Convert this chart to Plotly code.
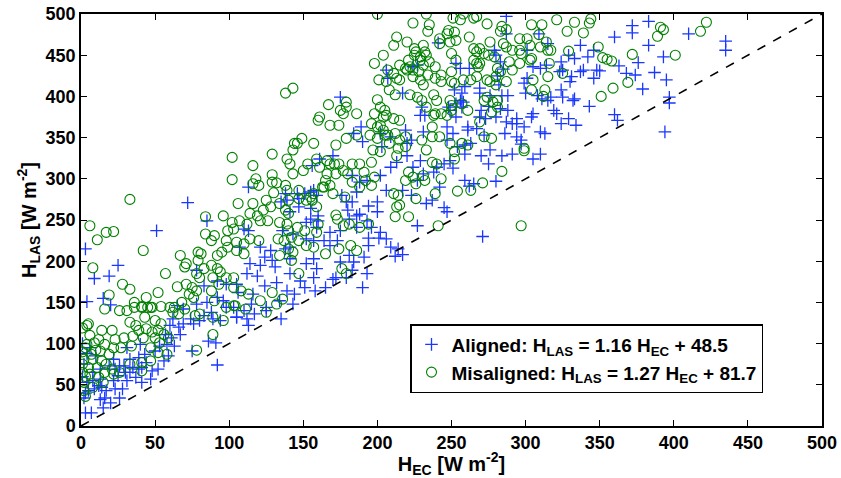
import plotly.graph_objects as go

# ---------------- data ----------------
# Aligned scintillometer: (H_EC, H_LAS) pairs, W m-2
aligned_points = [
    (3,16),(7,16),(3,215),(9,179),(4,151),(15,155),(19,182),(25,195),(20,147),(72,271),(51,237),(85,249),(113,290),
    (15,22),(20,28),(13,32),(16,34),(2,34),(3,40),(5,43),(9,45),(12,49),(14,47),(17,43),(8,55),(13,57),(4,53),
    (23,45),(26,34),(28,45),(22,55),(31,55),(25,61),(33,65),(37,59),(41,53),(35,71),(29,73),(33,81),(39,83),
    (41,71),(47,57),(48,67),(52,69),(44,77),(56,79),(43,87),(50,91),(53,97),(59,85),(58,99),(61,107),(57,111),
    (63,97),(67,111),(66,120),(60,122),(62,130),(69,124),(74,130),(76,124),(75,91),(80,128),(83,134),(86,103),
    (91,101),(92,74),(94,128),(88,138),(89,130),(98,144),(103,144),(105,132),(40,99),(31,95),(22,81),(19,73),
    (13,69),(8,65),(26,73),(39,69),(30,65),(23,69),
    (1,60),(2,75),(4,88),(6,95),(10,85),(1,100),
    (138,282),(147,276),(110,239),(113,237),(141,260),(121,217),(128,213),(107,217),(124,205),(129,201),
    (114,197),(121,195),(131,193),(112,185),(119,182),(92,176),(98,172),(83,170),(78,189),(105,172),(106,162),
    (116,160),(124,170),(132,174),(92,156),(96,152),(78,148),(85,150),(65,146),(69,142),(115,148),(125,144),
    (134,152),(143,148),
    (271,230),(227,243),(245,265),(247,260),(242,290),(237,274),(217,208),(212,206),(209,217),(214,215),
    (201,228),(206,227),(194,228),(194,219),(202,235),(196,241),(193,185),(190,168),(181,207),(191,205),
    (183,189),(184,199),(175,199),(172,180),(179,180),(159,191),(157,180),(158,164),(165,168),(170,178),
    (151,168),(144,160),(139,164),(148,176),(141,185),(152,197),(157,203),(141,203),(141,217),(138,215),
    (152,227),(157,225),(164,225),(168,219),(168,235),(175,237),(173,225),(181,251),(186,255),(180,262),
    (188,257),(193,249),(186,241),(183,272),(179,272),(176,280),(160,255),(160,249),(155,251),(152,247),
    (159,241),(155,264),(147,266),(146,282),(151,282),(155,284),(139,274),(135,272),(136,237),(143,233),
    (194,267),(200,272),(200,260),(186,284),(183,304),(188,296),(193,298),(202,304),(209,314),(213,320),
    (220,328),(206,286),(217,286),(223,280),(227,298),(231,306),(224,314),(229,322),(238,308),(240,314),
    (233,270),(245,318),(249,322),(254,339),(259,341),(259,298),(265,294),(270,328),(276,335),(275,318),
    (263,343),(272,353),(247,347),(251,355),(220,343),(223,347),(202,355),(209,351),(184,355),(190,345),
    (170,328),(161,324),(156,316),(157,286),(159,280),
    (135,130),(117,136),(113,122),(112,130),(105,132),(125,140),(110,140),
    (287,497),(287,476),(241,465),(309,476),(315,464),(337,462),(346,456),(342,448),(329,450),(333,446),
    (305,436),(310,434),(314,438),(324,442),(325,432),(323,430),(337,430),(339,432),(348,432),(346,422),
    (331,424),(330,418),(343,388),(324,408),(325,399),(333,397),(332,395),(319,383),(321,379),(329,373),
    (324,367),(334,365),(317,399),(315,395),(308,401),(311,397),(301,422),(299,416),(300,404),(288,401),
    (284,401),(276,401),(269,404),(269,410),(262,434),(256,434),(257,404),(259,412),(253,440),(279,456),
    (280,450),(301,456),(275,388),(270,383),(283,385),(280,375),(288,383),(294,373),(294,367),(304,375),
    (305,379),(287,369),(291,367),(299,363),(294,351),(297,347),(310,357),(313,355),(286,355),(256,395),
    (258,393),(257,387),(261,363),(261,359),(267,361),(269,375),(273,373),(253,375),(247,363),(230,387),
    (232,377),(229,377),(249,383),(248,387),(231,357),(219,359),(253,391),(252,408),(217,404),(206,432),
    (224,436),(227,438),
    (283,442),(285,433),(281,425),(282,414),
    (394,357),(435,467),(435,456),(410,476),(383,491),(372,486),(372,477),(360,472),(383,462),(397,399),
    (397,392),(395,420),(387,429),(393,448),(379,409),(374,426),(368,428),(376,441),(360,378),(362,371),
    (363,437),(350,431),(280,297),(262,291),(259,330),(251,313),(284,328),(291,330),(297,342),(305,324),
    (310,330),
    (175,399),(189,363),(203,339),(207,422),
]

# Misaligned scintillometer: (H_EC, H_LAS) pairs, W m-2
misaligned_points = [
    (1,119),(5,124),
    (33,275),(6,243),(11,226),(17,235),(22,236),(42,213),(8,192),(28,172),(33,166),(19,159),(57,185),(52,162),
    (44,156),(36,150),(67,207),(70,193),(71,197),(65,169),(79,211),(81,209),(84,254),(84,233),(90,231),(88,225),
    (96,255),(102,326),(102,299),(116,316),(118,300),(120,292),(116,294),(106,270),(116,270),(129,330),
    (129,305),(129,296),(132,295),(130,283),(125,274),(128,266),(143,335),(134,270),
    (114,258),(119,255),(123,262),(107,249),(112,245),(102,247),(99,237),(103,239),(121,249),(126,249),
    (134,247),(114,227),(120,225),(105,223),(110,221),(98,225),(95,211),(92,207),(99,217),(105,213),
    (110,209),(79,201),(83,191),(88,195),(92,191),(94,187),(78,185),(80,180),(89,180),(93,172),(98,180),
    (103,180),(71,172),(75,168),(78,164),(88,164),(73,160),(76,156),(68,150),(103,168),(108,164),(113,160),
    (121,152),(129,162),(132,148),(136,154),(111,142),(103,146),(133,227),(140,215),(143,211),
    (60,144),(54,145),(47,144),(41,145),
    (4,122),(14,116),(21,116),(26,140),(31,140),(16,142),(36,144),(41,144),(45,144),(48,144),(43,132),(33,126),
    (37,122),(39,116),(44,118),(48,114),(52,116),(56,111),(50,107),(42,107),(29,107),(23,105),(35,109),(9,101),
    (4,99),(16,99),(22,95),(27,95),(34,97),(13,91),(7,87),(19,87),(2,81),(8,81),(14,79),(5,71),(11,71),(17,75),
    (1,65),(6,63),(12,59),(16,65),(15,53),(2,53),(8,47),(3,36),(2,43),(22,63),(26,65),(21,69),(33,75),(41,77),
    (47,79),(41,67),(47,95),(52,89),(58,87),(53,101),(59,107),(62,138),(66,136),(70,142),(63,144),(77,134),
    (80,136),(89,111),(78,92),(96,128),(98,144),(104,146),(54,124),(50,128),
    (1,90),(3,95),(1,75),(3,60),(10,92),(12,105),(6,110),
    (89,132),(90,152),(125,138),(147,185),
    (271,295),(263,286),(254,285),(241,243),(243,300),(239,282),(232,298),(231,304),(226,294),(226,276),
    (221,254),(212,254),(213,266),(215,268),(211,282),(214,280),(196,292),(188,290),(192,298),(183,296),
    (180,306),(177,310),(183,318),(191,308),(188,318),(196,320),(198,302),(197,335),(202,333),(221,308),
    (224,302),(219,298),(213,328),(214,337),(215,347),(219,339),(219,351),(207,353),(212,355),(208,343),
    (230,347),(233,335),(237,320),(240,318),(237,351),(242,351),(249,343),(252,333),(257,343),(261,341),
    (272,351),(277,349),(186,353),(195,353),(200,349),(205,353),(179,349),(172,341),(171,318),(172,306),
    (166,322),(168,318),(174,318),(159,324),(161,314),(166,306),(153,318),(150,310),(157,282),(152,274),
    (163,290),(165,298),(168,292),(170,282),(178,278),(159,266),(172,256),(173,251),(177,243),(181,245),
    (188,241),(194,245),(160,245),(159,235),(151,237),(146,241),(140,237),(143,306),(141,318),(139,324),
    (146,343),(149,349),(157,343),(138,292),(139,286),(155,278),(156,274),(164,290),(147,276),(140,274),
    (147,286),(138,262),(140,258),(139,245),(142,229),(147,225),(152,219),(157,217),(165,209),(174,215),
    (182,219),(186,213),(176,191),(179,185),(142,201),(134,207),(137,225),
    (200,500),(198,440),(201,420),(200,396),(167,390),(179,393),(175,383),(177,379),(179,387),(186,379),
    (161,375),(160,371),(168,365),(174,365),(198,379),(196,367),(200,363),(138,404),(143,410),(144,343),
    (233,500),(258,500),(251,495),(256,493),(265,495),(267,497),(274,488),(284,485),(287,481),(283,479),
    (304,487),(311,487),(321,493),(333,490),(343,489),(344,494),(328,479),(339,477),(309,475),(314,466),
    (317,456),(301,470),(296,470),(276,466),(262,472),(269,458),(267,454),(253,468),(249,466),(247,476),
    (248,480),(252,478),(242,470),(242,464),(235,487),(234,479),(224,489),(213,472),(220,466),(211,462),
    (204,450),(231,462),(232,454),(225,450),(229,448),(233,450),(235,442),(239,436),(231,438),(250,452),
    (253,444),(265,458),(272,452),(275,450),(265,444),(267,440),(279,448),(281,434),(283,430),(285,464),
    (287,460),(291,456),(296,456),(297,452),(296,440),(291,432),(289,442),(303,462),(304,446),(310,460),
    (315,456),(316,440),(315,424),(313,408),(305,420),(304,408),(287,418),(274,420),(276,418),(280,424),
    (280,414),(258,420),(263,420),(267,424),(250,430),(250,418),(252,416),(243,426),(239,422),(243,418),
    (234,426),(229,420),(224,424),(231,414),(222,436),(224,432),(228,430),(220,432),(215,420),(213,422),
    (211,428),(215,438),(219,434),(221,444),(225,458),(226,454),(229,444),(207,432),(206,418),(208,408),
    (212,402),(202,387),(205,383),(206,377),(211,373),(202,365),(204,375),(215,371),(222,402),(227,399),
    (230,395),(233,387),(238,402),(240,395),(239,379),(238,377),(243,379),(247,377),(250,383),(237,363),
    (249,395),(250,389),(257,391),(261,383),(269,369),(272,395),(274,399),(278,393),(281,395),(277,381),
    (281,387),(268,436),(269,440),(299,337),(312,400),(303,444),(204,359),
    (391,484),(393,481),(389,473),(418,479),(422,490),(401,450),(372,451),(369,417),(359,410),(351,400),
    (352,447),(355,445),(358,443),(284,309),(297,243),(252,324),(299,334),(349,460),(329,455),(325,428),
]

one_to_one = [0, 500]
tick_values = [0, 50, 100, 150, 200, 250, 300, 350, 400, 450, 500]
legend_names = [
    "<b>Aligned: H<sub>LAS</sub> = 1.16 H<sub>EC</sub> + 48.5</b>",
    "<b>Misaligned: H<sub>LAS</sub> = 1.27 H<sub>EC</sub> + 81.7</b>",
]

ax, ay = zip(*aligned_points)
mx, my = zip(*misaligned_points)

fig = go.Figure()
fig.add_trace(go.Scatter(
    x=ax, y=ay, mode="markers", name=legend_names[0],
    marker=dict(symbol="cross-thin", size=9, line=dict(color="rgb(25,55,255)", width=1.3)),
))
fig.add_trace(go.Scatter(
    x=mx, y=my, mode="markers", name=legend_names[1],
    marker=dict(symbol="circle-open", size=10, color="rgb(0,128,0)", line=dict(width=1.1)),
))
fig.add_trace(go.Scatter(
    x=one_to_one, y=one_to_one, mode="lines", showlegend=False,
    line=dict(color="black", width=1.6, dash="dash"),
))

axis_common = dict(
    range=[0, 500], tickvals=tick_values, ticks="inside", ticklen=6, tickwidth=1,
    tickcolor="black", showline=True, linecolor="black", linewidth=1.5, mirror="ticks",
    showgrid=False, zeroline=False, automargin=False,
    tickfont=dict(family="Liberation Sans", size=18, color="black", weight="bold"),
)

fig.update_layout(
    width=841, height=478,
    margin=dict(l=81, r=19, t=14, b=52),
    paper_bgcolor="white", plot_bgcolor="white",
    font=dict(family="Liberation Sans", color="black"),
    xaxis=dict(axis_common,
               title=dict(text="<b>H<sub>EC</sub> [W m<sup>-2</sup>]</b>", font=dict(size=20), standoff=2)),
    yaxis=dict(axis_common,
               title=dict(text="<b>H<sub>LAS</sub> [W m<sup>-2</sup>]</b>", font=dict(size=20), standoff=4)),
    legend=dict(
        x=0.444, xanchor="left", y=0.08, yanchor="bottom",
        bgcolor="white", bordercolor="black", borderwidth=1.5,
        font=dict(family="Liberation Sans", size=19, color="black"),
        itemsizing="trace", tracegroupgap=0,
        entrywidth=355, entrywidthmode="pixels",
    ),
    showlegend=True,
)

fig.write_html("out.html")
